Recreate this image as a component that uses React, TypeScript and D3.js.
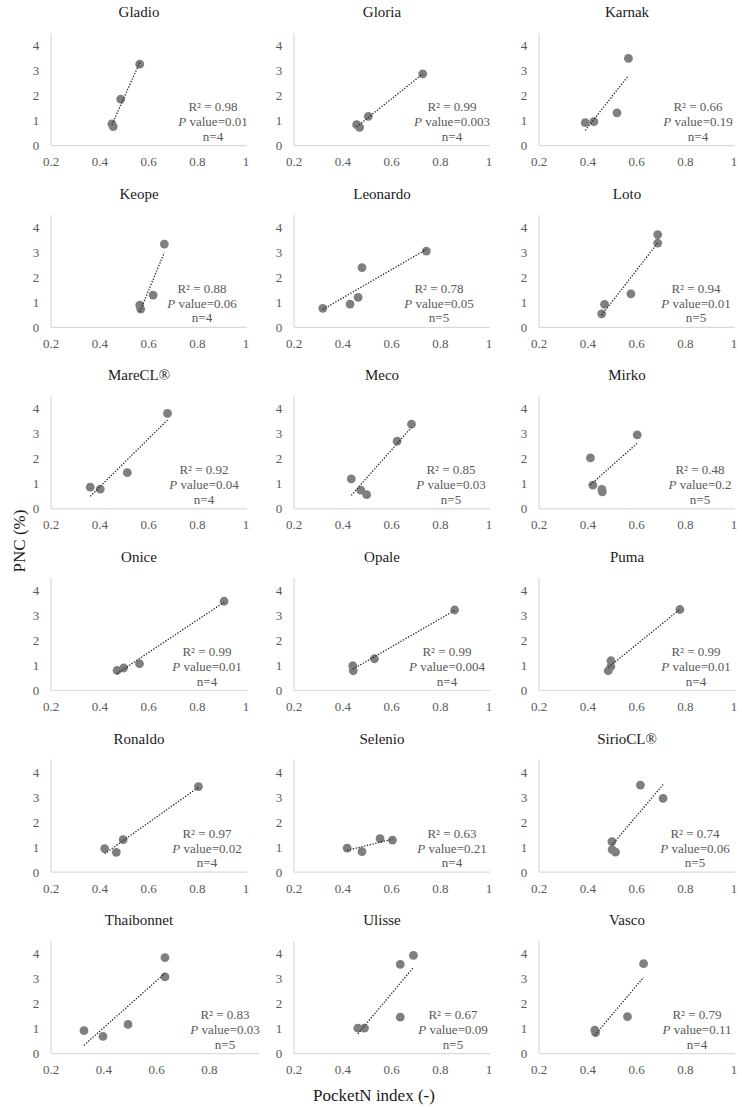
import React from "react";
import * as d3 from "d3";

const varieties = ["Gladio","Gloria","Karnak","Keope","Leonardo","Loto","MareCL®","Meco","Mirko","Onice","Opale","Puma","Ronaldo","Selenio","SirioCL®","Thaibonnet","Ulisse","Vasco"];

const pocketN: number[][] = [
  [0.45, 0.455, 0.486, 0.564],
  [0.457, 0.469, 0.505, 0.728],
  [0.39, 0.425, 0.52, 0.567],
  [0.564, 0.568, 0.619, 0.665],
  [0.318, 0.43, 0.463, 0.479, 0.743],
  [0.457, 0.469, 0.577, 0.687, 0.687],
  [0.361, 0.402, 0.513, 0.678],
  [0.435, 0.474, 0.498, 0.623, 0.682],
  [0.411, 0.421, 0.458, 0.46, 0.603],
  [0.471, 0.498, 0.563, 0.91],
  [0.441, 0.443, 0.53, 0.859],
  [0.484, 0.495, 0.495, 0.778],
  [0.42, 0.468, 0.496, 0.805],
  [0.418, 0.479, 0.553, 0.604],
  [0.499, 0.5, 0.514, 0.616, 0.709],
  [0.325, 0.397, 0.492, 0.632, 0.632],
  [0.462, 0.489, 0.636, 0.636, 0.69],
  [0.429, 0.432, 0.563, 0.629],
];

const pnc: number[][] = [
  [0.87, 0.76, 1.86, 3.26],
  [0.84, 0.73, 1.17, 2.87],
  [0.92, 0.96, 1.31, 3.49],
  [0.89, 0.73, 1.29, 3.33],
  [0.76, 0.93, 1.2, 2.39, 3.05],
  [0.54, 0.92, 1.34, 3.37, 3.71],
  [0.87, 0.79, 1.45, 3.82],
  [1.2, 0.75, 0.57, 2.71, 3.39],
  [2.04, 0.95, 0.78, 0.68, 2.96],
  [0.8, 0.9, 1.07, 3.57],
  [0.99, 0.79, 1.27, 3.22],
  [0.79, 0.96, 1.19, 3.24],
  [0.94, 0.79, 1.3, 3.42],
  [0.96, 0.82, 1.34, 1.28],
  [1.22, 0.9, 0.8, 3.48, 2.95],
  [0.92, 0.69, 1.17, 3.07, 3.84],
  [1.02, 1.02, 1.46, 3.57, 3.93],
  [0.94, 0.84, 1.48, 3.6],
];

const r2Labels = ["0.98","0.99","0.66","0.88","0.78","0.94","0.92","0.85","0.48","0.99","0.99","0.99","0.97","0.63","0.74","0.83","0.67","0.79"];
const pLabels = ["0.01","0.003","0.19","0.06","0.05","0.01","0.04","0.03","0.2","0.01","0.004","0.01","0.02","0.21","0.06","0.03","0.09","0.11"];
const nLabels = [4,4,4,4,5,5,4,5,5,4,4,4,4,4,5,5,5,4];

const xTicks = [0.2, 0.4, 0.6, 0.8, 1];
const yTicks = [0, 1, 2, 3, 4];

// layout
const colX = [51, 294, 539];
const row0 = 145.7;
const rowStep = 181.6;
const labelDx = [162,158,159,151,145,157,153,157,161,156,153,157,156,158,156,174,159,158];

const FONT = '"Liberation Serif", "DejaVu Serif", serif';
const txt = { fontFamily: FONT };

function Panel({ i }: { i: number }) {
  const col = i % 3;
  const row = Math.floor(i / 3);
  const x0 = colX[col];
  const yBase = row0 + row * rowStep;
  const wide = varieties[i] === "Thaibonnet";
  const width = wide ? 211 : 195;
  const x = d3.scaleLinear().domain([0.2, 1]).range([x0, x0 + width]);
  const y = d3.scaleLinear().domain([0, 4.5]).range([yBase, yBase - 112.5]);
  const xs = pocketN[i];
  const ys = pnc[i];
  const mx = d3.mean(xs)!;
  const my = d3.mean(ys)!;
  const sxy = d3.sum(xs.map((v, k) => (v - mx) * (ys[k] - my)));
  const sxx = d3.sum(xs.map((v) => (v - mx) ** 2));
  const slope = sxy / sxx;
  const icpt = my - slope * mx;
  const [xmin, xmax] = d3.extent(xs) as [number, number];
  const line = d3.line<number>().x((v) => x(v)).y((v) => y(icpt + slope * v));
  const ticks = wide ? xTicks.slice(0, 4) : xTicks;
  const axisEnd = wide ? x0 + 208 : x0 + 196;
  const lx = x0 + labelDx[i];
  return (
    <g>
      <text x={x0 + 88} y={yBase - 128.5} textAnchor="middle" fontSize={15} fill="#1a1a1a" style={txt}>{varieties[i]}</text>
      <line x1={x0} x2={x0} y1={y(4.5)} y2={yBase} stroke="#d9d9d9" strokeWidth={1.2} />
      <line x1={x0} x2={axisEnd} y1={yBase} y2={yBase} stroke="#d9d9d9" strokeWidth={1.2} />
      {yTicks.map((t) => (
        <text key={"y" + t} x={x0 - 15} y={y(t) + 4.5} textAnchor="middle" fontSize={13} fill="#595959" style={txt}>{t}</text>
      ))}
      {ticks.map((t) => (
        <text key={"x" + t} x={x(t)} y={yBase + 20.5} textAnchor="middle" fontSize={13} fill="#595959" style={txt}>{t}</text>
      ))}
      {xs.map((v, k) => (
        <circle key={k} cx={x(v)} cy={y(ys[k])} r={4.4} fill="#7f7f7f" />
      ))}
      <path d={line([xmin, xmax]) || ""} fill="none" stroke="#222" strokeWidth={1.3} strokeDasharray="1.3 1.6" />
      <text x={lx} y={yBase - 34.5} textAnchor="middle" fontSize={13} fill="#595959" style={txt}>R² = {r2Labels[i]}</text>
      <text x={lx} y={yBase - 19.5} textAnchor="middle" fontSize={13} fill="#595959" style={txt}>
        <tspan fontStyle="italic">P</tspan> value={pLabels[i]}
      </text>
      <text x={lx} y={yBase - 5} textAnchor="middle" fontSize={13} fill="#595959" style={txt}>n={nLabels[i]}</text>
    </g>
  );
}

export default function App() {
  return (
    <svg width={742} height={1109} style={{ position: "absolute", left: 0, top: 0, background: "#fff" }}>
      <rect width={742} height={1109} fill="#fff" />
      {varieties.map((_, i) => (
        <Panel key={i} i={i} />
      ))}
      <text transform="translate(25,541) rotate(-90)" textAnchor="middle" fontSize={17} fill="#1a1a1a" style={txt}>PNC (%)</text>
      <text x={374} y={1101} textAnchor="middle" fontSize={17} fill="#1a1a1a" style={txt}>PocketN index (-)</text>
    </svg>
  );
}
